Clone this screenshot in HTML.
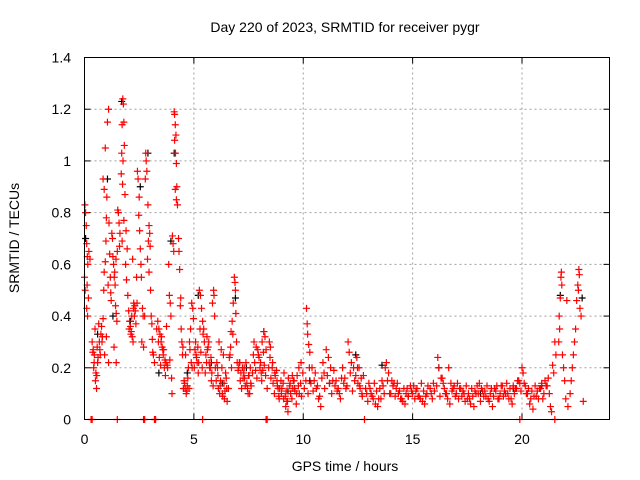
<!DOCTYPE html>
<html><head><meta charset="utf-8"><style>
body{margin:0;background:#fff}
svg{display:block;font-family:"Liberation Sans",sans-serif}
</style></head><body>
<svg id="chart" width="640" height="480" viewBox="0 0 640 480" xmlns="http://www.w3.org/2000/svg">
<text x="345" y="32" font-size="14" text-anchor="middle">Day 220 of 2023, SRMTID for receiver pygr</text>
<text x="345" y="471" font-size="14" text-anchor="middle">GPS time / hours</text>
<text x="0" y="0" font-size="14" text-anchor="middle" transform="translate(19,238) rotate(-90)">SRMTID / TECUs</text>
<g id="grid"></g>
<g id="ticks"></g>
<g id="marks"></g>
<rect x="84.5" y="57.5" width="525" height="362" fill="none" stroke="#000" stroke-width="1"/>
</svg>
<script>
const xTicks=[0,5,10,15,20];
const yTicks=[0,0.2,0.4,0.6,0.8,1,1.2,1.4];
const yTickLabels=["0","0.2","0.4","0.6","0.8","1","1.2","1.4"];
const redHours=[
0.02,0.05,0.08,0.1,0.13,0.15,0.0,0.03,0.12,0.18,0.1,0.14,0.2,0.25,
0.35,0.4,0.45,0.42,0.5,0.55,0.6,0.48,0.65,0.52,0.7,0.62,
0.75,0.8,0.85,0.88,0.9,0.95,0.98,1.0,1.02,0.9,0.85,0.95,1.05,1.1,1.12,1.15,1.18,1.2,1.0,0.92,1.1,
1.25,1.28,1.3,1.33,1.36,1.4,1.42,1.45,1.48,1.5,1.52,1.55,1.58,1.35,1.45,
1.75,1.78,1.8,1.72,1.82,1.7,1.76,1.68,1.74,1.85,1.8,1.9,1.72,1.95,1.88,1.92,1.98,
2.02,2.06,2.1,2.14,2.18,2.22,2.25,2.3,2.32,2.28,2.35,2.2,2.38,
2.42,2.45,2.5,2.48,2.52,2.55,2.58,2.6,2.65,2.7,2.75,
2.8,2.82,2.85,2.78,2.9,2.95,2.98,2.92,3.0,2.88,2.95,3.02,3.05,3.08,3.1,3.15,3.2,
3.35,3.4,3.45,3.5,3.55,3.6,3.65,3.7,3.75,3.52,3.62,3.72,3.78,
3.85,3.88,3.92,3.95,3.9,3.98,4.0,4.02,4.05,4.08,4.1,4.12,4.15,4.18,4.12,4.16,4.2,4.22,4.15,4.2,4.25,4.3,4.32,4.35,4.4,4.38,4.42,4.45,4.48,
4.55,4.6,4.65,4.7,4.75,4.8,4.85,4.9,4.95,4.98,4.62,4.88,
5.05,5.1,5.15,5.2,5.25,5.3,5.35,5.4,5.45,5.42,5.48,
5.9,5.92,5.85,5.95,5.6,5.65,5.7,5.75,5.8,5.88,5.55,
6.05,6.1,6.2,6.3,6.4,6.5,6.15,6.25,6.35,6.45,
6.85,6.88,6.9,6.8,6.92,6.75,6.7,6.95,6.65,6.98,
7.05,7.15,7.25,7.35,7.45,7.55,7.1,7.3,7.5,7.6,
7.75,7.85,7.95,8.05,8.15,8.2,8.25,8.3,8.1,8.35,
8.45,8.5,8.6,8.7,8.8,8.85,8.9,
9.0,9.1,9.2,9.3,9.4,9.5,9.6,9.7,9.8,9.9,9.55,9.25,
10.15,10.18,10.2,10.25,10.3,10.4,10.5,10.6,10.7,10.8,10.9,10.95,
11.05,11.15,11.25,11.35,11.45,11.55,11.65,11.75,11.85,11.95,
12.05,12.1,12.2,12.3,12.4,12.5,12.6,12.7,12.45,12.55,12.65,12.9,
13.0,13.1,13.2,13.3,13.4,13.5,13.6,13.75,13.8,13.9,13.95,13.45,
14.05,14.15,14.25,14.35,14.45,14.55,14.65,14.75,14.9,
15.05,15.15,15.25,15.35,15.45,15.55,15.65,15.8,15.95,
16.15,16.2,16.3,16.4,16.5,16.6,16.7,16.65,16.85,16.95,
17.05,17.2,17.35,17.5,17.65,17.8,17.9,17.95,
18.05,18.2,18.35,18.5,18.65,18.75,18.85,18.95,
19.1,19.25,19.4,19.55,19.7,19.8,19.9,19.95,
20.0,20.05,20.15,20.25,20.35,20.5,20.65,20.8,20.95,
21.05,21.15,21.25,21.3,21.35,21.45,21.5,21.55,21.4,
21.8,21.78,21.82,21.75,21.7,21.72,21.68,21.85,21.9,21.95,22.0,22.1,22.05,
22.6,22.62,22.55,22.58,22.5,22.65,22.7,22.45,22.4,22.35,22.3,22.25,22.2,22.8,
0.3,0.35,1.5,2.7,2.75,3.2,3.25,5.4,8.3,8.35,12.8,19.9,21.5];
const redTecu=[
0.83,0.8,0.75,0.68,0.63,0.6,0.55,0.5,0.52,0.47,0.43,0.4,0.65,0.62,
0.3,0.27,0.25,0.2,0.15,0.12,0.22,0.35,0.37,0.18,0.27,0.24,
0.33,0.3,0.39,0.5,0.57,0.61,0.69,0.78,0.86,0.89,0.93,1.05,1.15,1.2,0.76,0.64,0.55,0.49,0.32,0.25,0.22,
0.72,0.7,0.63,0.6,0.55,0.52,0.44,0.41,0.38,0.65,0.81,0.8,0.76,0.28,0.22,
1.24,1.22,1.15,1.14,1.06,1.03,1.0,0.95,0.91,0.87,0.77,0.73,0.69,0.66,0.6,0.54,0.48,
0.42,0.38,0.36,0.34,0.32,0.3,0.45,0.44,0.42,0.4,0.37,0.62,0.55,
0.96,0.93,0.86,0.79,0.73,0.66,0.6,0.55,0.43,0.28,0.4,
1.03,1.0,0.96,0.93,0.83,0.75,0.72,0.69,0.67,0.62,0.57,0.5,0.4,0.37,0.31,0.25,0.22,
0.38,0.35,0.33,0.3,0.28,0.25,0.2,0.17,0.36,0.32,0.27,0.22,0.21,
0.6,0.48,0.45,0.4,0.23,0.16,0.1,0.71,0.68,0.65,1.19,1.18,1.14,1.1,1.08,1.03,0.99,0.9,0.89,0.85,0.83,0.7,0.65,0.58,0.47,0.44,0.35,0.3,0.25,
0.15,0.12,0.1,0.13,0.2,0.3,0.35,0.45,0.43,0.39,0.25,0.22,
0.27,0.25,0.22,0.18,0.5,0.48,0.43,0.38,0.35,0.33,0.3,
0.5,0.48,0.45,0.4,0.32,0.28,0.22,0.2,0.15,0.13,0.25,
0.22,0.17,0.13,0.1,0.08,0.12,0.3,0.27,0.25,0.18,
0.55,0.53,0.5,0.45,0.41,0.38,0.34,0.3,0.25,0.22,
0.2,0.18,0.16,0.13,0.12,0.1,0.22,0.2,0.17,0.14,
0.3,0.28,0.25,0.22,0.19,0.34,0.32,0.27,0.15,0.12,
0.3,0.28,0.22,0.18,0.15,0.12,0.08,
0.1,0.08,0.05,0.03,0.14,0.17,0.12,0.1,0.2,0.22,0.15,0.07,
0.43,0.37,0.33,0.29,0.26,0.2,0.15,0.12,0.08,0.05,0.22,0.18,
0.27,0.24,0.2,0.15,0.13,0.11,0.1,0.16,0.14,0.12,
0.3,0.26,0.22,0.2,0.17,0.14,0.12,0.09,0.24,0.2,0.16,0.1,
0.14,0.1,0.08,0.06,0.05,0.12,0.15,0.2,0.22,0.18,0.1,0.08,
0.15,0.14,0.12,0.1,0.08,0.07,0.06,0.12,0.13,
0.13,0.11,0.09,0.08,0.07,0.06,0.1,0.12,0.14,
0.24,0.2,0.16,0.14,0.1,0.08,0.06,0.2,0.12,0.09,
0.14,0.12,0.1,0.08,0.06,0.05,0.1,0.13,
0.14,0.11,0.09,0.07,0.05,0.12,0.13,0.08,
0.13,0.1,0.08,0.06,0.12,0.15,0.14,0.11,
0.2,0.18,0.13,0.1,0.06,0.04,0.09,0.12,0.08,
0.15,0.13,0.1,0.05,0.03,0.18,0.3,0.25,0.21,
0.57,0.55,0.52,0.47,0.4,0.35,0.3,0.25,0.2,0.15,0.08,0.05,0.46,
0.58,0.56,0.52,0.5,0.46,0.43,0.4,0.35,0.3,0.25,0.2,0.15,0.1,0.07,
0,0,0,0,0,0,0,0,0,0,0,0,0];
const earlyHours=[0.38,0.44,0.56,0.58,0.68,0.72,0.78,0.82,1.08,1.22,1.38,1.44,1.6,1.62,2.04,2.12,2.16,2.24,2.4,2.62,2.68,3.12,3.3,3.38,3.42,3.48,3.58,3.68,3.8,4.5,4.52,4.58,4.68,4.72,4.78,4.82,4.92];
const earlyTecu=[0.26,0.22,0.17,0.28,0.3,0.25,0.36,0.32,0.52,0.46,0.57,0.62,0.67,0.72,0.35,0.33,0.4,0.43,0.45,0.3,0.4,0.26,0.35,0.3,0.24,0.21,0.27,0.23,0.2,0.28,0.12,0.14,0.11,0.16,0.12,0.27,0.2];
const midHours=[5.02,5.08,5.12,5.18,5.22,5.28,5.32,5.38,5.52,5.58,5.62,5.68,5.72,5.78,5.82,5.98,6.02,6.08,6.12,6.18,6.22,6.28,6.32,6.38,6.42,6.48,6.52,6.58,6.62,6.68,6.72,6.78,7.02,7.08,7.12,7.18,7.22,7.28,7.32,7.38,7.42,7.48,7.52,7.58,7.62,7.68,7.72,7.78,7.82,7.88,7.92,7.98,8.02,8.08,8.12,8.18,8.22,8.28,8.42,8.48,8.52,8.58,8.62,8.68,8.72,8.78,8.82,8.88,8.92,8.98,9.02,9.08,9.12,9.18,9.22,9.28,9.32,9.38,9.42,9.48,9.52,9.58,9.62,9.68,9.72,9.78,9.82,9.88,9.92,9.98];
const midTecu=[0.2,0.3,0.24,0.28,0.22,0.35,0.26,0.2,0.18,0.22,0.27,0.3,0.2,0.24,0.18,0.2,0.15,0.2,0.12,0.1,0.15,0.2,0.09,0.14,0.11,0.16,0.07,0.12,0.24,0.28,0.2,0.33,0.19,0.22,0.15,0.12,0.2,0.18,0.16,0.22,0.14,0.1,0.17,0.2,0.13,0.18,0.25,0.22,0.19,0.16,0.27,0.24,0.2,0.18,0.3,0.26,0.21,0.17,0.2,0.24,0.16,0.2,0.14,0.1,0.17,0.19,0.13,0.09,0.12,0.15,0.12,0.14,0.18,0.09,0.11,0.07,0.16,0.13,0.1,0.08,0.12,0.15,0.11,0.06,0.17,0.13,0.1,0.14,0.09,0.18];
const lateHours=[10.05,10.12,10.22,10.28,10.35,10.45,10.55,10.65,10.75,10.85,
10.98,11.1,11.2,11.3,11.4,11.5,11.6,11.7,11.8,11.9,
12.0,12.15,12.25,12.35,12.48,12.58,12.68,12.75,12.85,12.95,
13.05,13.15,13.25,13.35,13.55,13.65,13.7,13.85,
14.0,14.1,14.2,14.3,14.4,14.5,14.6,14.7,14.8,14.95,
15.0,15.1,15.2,15.3,15.4,15.5,15.6,15.7,15.85,15.9,
16.0,16.1,16.25,16.35,16.45,16.55,16.75,16.8,16.9,
17.0,17.1,17.15,17.25,17.3,17.4,17.45,17.55,17.6,17.7,17.75,17.85,
18.0,18.1,18.15,18.25,18.3,18.4,18.45,18.55,18.6,18.7,18.8,18.9,
19.0,19.05,19.15,19.2,19.3,19.35,19.45,19.5,19.6,19.65,19.75,19.85,
20.1,20.2,20.3,20.4,20.45,20.55,20.6,20.7,20.75,20.85,20.9,
21.0,21.1,21.2];
const lateTecu=[0.12,0.15,0.1,0.2,0.14,0.11,0.18,0.13,0.09,0.16,
0.12,0.17,0.14,0.1,0.19,0.15,0.12,0.08,0.2,0.16,
0.13,0.18,0.11,0.15,0.2,0.13,0.1,0.17,0.12,0.07,
0.12,0.09,0.14,0.11,0.08,0.13,0.1,0.15,
0.1,0.13,0.09,0.14,0.11,0.08,0.12,0.1,0.09,0.11,
0.1,0.08,0.12,0.09,0.14,0.11,0.09,0.13,0.1,0.08,
0.11,0.13,0.09,0.16,0.12,0.1,0.14,0.11,0.13,
0.1,0.08,0.12,0.09,0.11,0.07,0.13,0.1,0.08,0.12,0.09,0.11,
0.1,0.07,0.12,0.09,0.11,0.13,0.08,0.1,0.12,0.09,0.11,0.08,
0.1,0.13,0.09,0.11,0.14,0.1,0.12,0.08,0.13,0.1,0.12,0.15,
0.14,0.1,0.12,0.08,0.11,0.09,0.13,0.11,0.08,0.12,0.14,
0.1,0.13,0.16];
const blackHours=[0.05,0.6,1.05,1.3,1.7,2.1,2.55,2.9,3.4,3.95,4.1,4.7,5.2,5.8,6.3,6.9,7.4,8.2,9.3,10.3,11.2,12.4,13.6,14.8,16.2,18.1,19.6,20.9,21.75,22.75];
const blackTecu=[0.7,0.33,0.93,0.4,1.23,0.38,0.9,1.03,0.18,0.69,1.03,0.18,0.48,0.22,0.14,0.47,0.2,0.34,0.11,0.15,0.14,0.25,0.21,0.09,0.2,0.1,0.12,0.13,0.48,0.47];

const X0=84.5,X1=609.5,Y0=419.5,Y1=57.5,XMAX=24,YMAX=1.4;
function xs(t){return X0+(X1-X0)*t/XMAX;}
function ys(v){return Y0-(Y0-Y1)*v/YMAX;}
const NS="http://www.w3.org/2000/svg";
function mk(tag,attrs,parent){const e=document.createElementNS(NS,tag);for(const k in attrs)e.setAttribute(k,attrs[k]);parent.appendChild(e);return e;}
const grid=document.getElementById('grid'),ticks=document.getElementById('ticks'),marks=document.getElementById('marks');
xTicks.forEach(function(t){
  const x=xs(t);
  if(t>0){const g=mk('line',{x1:x,x2:x,y1:Y1,y2:Y0,stroke:'#a0a0a0','stroke-dasharray':'2,3'},grid);
  
  }
  mk('line',{x1:x,x2:x,y1:Y0,y2:Y0-6,stroke:'#000'},ticks);
  mk('line',{x1:x,x2:x,y1:Y1,y2:Y1+6,stroke:'#000'},ticks);
  const l=mk('text',{x:x,y:444,'font-size':14,'text-anchor':'middle'},ticks);
  l.textContent=String(t);
  
  
});
yTicks.forEach(function(v,i){
  const y=ys(v);
  if(v>0&&v<YMAX){const g=mk('line',{x1:X0,x2:X1,y1:y,y2:y,stroke:'#a0a0a0','stroke-dasharray':'2,3'},grid);
  
  }
  mk('line',{x1:X0,x2:X0+6,y1:y,y2:y,stroke:'#000'},ticks);
  mk('line',{x1:X1,x2:X1-6,y1:y,y2:y,stroke:'#000'},ticks);
  const l=mk('text',{x:71,y:y+5,'font-size':14,'text-anchor':'end'},ticks);
  l.textContent=yTickLabels[i];
  
  
});
function plus(t,v,color,name){
  const x=xs(t),y=ys(v);
  const p=mk('path',{d:'M'+(x-3.5)+' '+y+'H'+(x+3.5)+'M'+x+' '+(y-3.5)+'V'+(y+3.5),stroke:color,'stroke-width':1.2,fill:'none'},marks);
  
  
}
blackHours.forEach(function(t,i){plus(t,blackTecu[i],'#000','black-point');});
redHours.forEach(function(t,i){plus(t,redTecu[i],'#ff0000','red-point');});
earlyHours.forEach(function(t,i){plus(t,earlyTecu[i],'#ff0000','red-point');});
midHours.forEach(function(t,i){plus(t,midTecu[i],'#ff0000','red-point');});
lateHours.forEach(function(t,i){plus(t,lateTecu[i],'#ff0000','red-point');});
</script>
</body></html>
